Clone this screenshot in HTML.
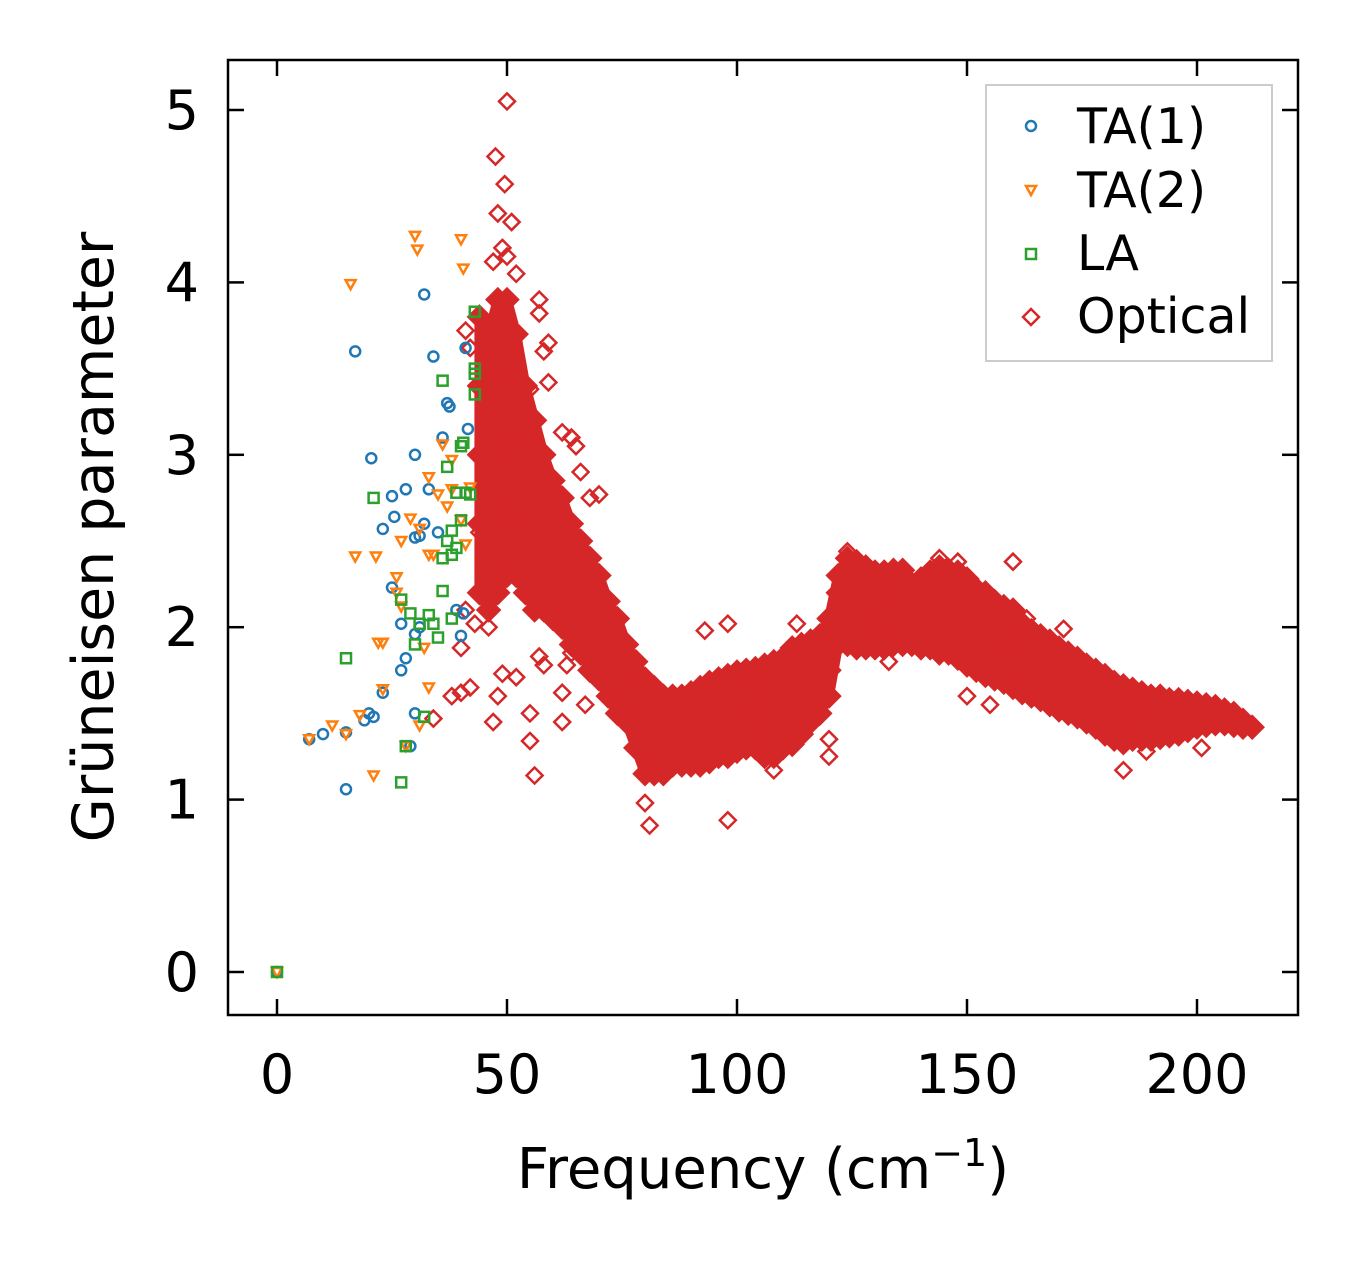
<!DOCTYPE html>
<html><head><meta charset="utf-8"><style>
html,body{margin:0;padding:0;background:#fff}
svg{display:block;font-family:"DejaVu Sans","Liberation Sans",sans-serif}
</style></head><body>
<svg id="chart" width="1357" height="1264" viewBox="0 0 1357 1264" xmlns="http://www.w3.org/2000/svg">
<rect x="0" y="0" width="1357" height="1264" fill="#fff"/>
<g id="marks"></g>
<rect x="228" y="60" width="1070" height="955" fill="none" stroke="#000" stroke-width="2.5"/>
<g id="axes"></g>
<text x="763" y="1188" font-size="56" text-anchor="middle">Frequency (cm<tspan dy="-22" font-size="38">−1</tspan><tspan dy="22">)</tspan></text>
<text transform="translate(113,537) rotate(-90)" font-size="57" text-anchor="middle">Grüneisen parameter</text>
<g>
<rect x="986" y="85" width="286" height="276" fill="#fff" stroke="#ccc" stroke-width="2"/>
<circle cx="1031" cy="126" r="5" fill="none" stroke="#1f77b4" stroke-width="2.5"/>
<text x="1077" y="143" font-size="49">TA(1)</text>
<path d="M1026,186 L1036,186 L1031,195 Z" fill="none" stroke="#ff7f0e" stroke-width="2.5"/>
<text x="1077" y="207" font-size="49">TA(2)</text>
<rect x="1026" y="249" width="10" height="10" fill="none" stroke="#2ca02c" stroke-width="2.5"/>
<text x="1077" y="270" font-size="49">LA</text>
<path d="M1031,309 L1039,317 L1031,325 L1023,317 Z" fill="none" stroke="#d62728" stroke-width="2.5"/>
<text x="1077" y="333" font-size="49">Optical</text>
</g>
</svg>
<script>
const xTicks=[0,50,100,150,200];
const yTicks=[0,1,2,3,4,5];
const ta1X=[0,7,10,15,15,17,19,20,21,20.5,23,23,25,25,25.5,27,27,28,28,29,30,30,30,30,31,31,32,32,33,34,35,36,37,37.5,39,40,41,41.5,40.5];
const ta1Y=[0,1.35,1.38,1.39,1.06,3.6,1.46,1.5,1.48,2.98,2.57,1.62,2.76,2.23,2.64,1.75,2.02,1.82,2.8,1.31,3.0,2.52,1.96,1.5,2.53,2.0,2.6,3.93,2.8,3.57,2.55,3.1,3.3,3.28,2.1,1.95,3.62,3.15,2.08];
const ta2X=[0,7,12,15,16,17,18,21,21.5,22,23,23,26,26,27,27,28,29,30,30.5,31,31,32,33,33,33,34,35,36,37,38,38,40,40,40.5,41,42];
const ta2Y=[0,1.35,1.43,1.38,3.99,2.41,1.49,1.14,2.41,1.91,1.91,1.64,2.29,2.2,2.12,2.5,1.31,2.63,4.27,4.19,2.57,1.43,1.88,1.65,2.87,2.42,2.42,2.77,3.06,2.7,2.8,2.97,2.62,4.25,4.08,2.48,2.81];
const laX=[0,15,21,27,27,28,29,30,31,32,33,34,35,36,36,36,37,37,38,38,38,39,39,40,40,40.5,41,42,43,43,43,43];
const laY=[0,1.82,2.75,1.1,2.16,1.31,2.08,1.9,2.02,1.48,2.07,2.02,1.94,2.21,2.4,3.43,2.93,2.5,2.42,2.56,2.05,2.46,2.78,2.62,3.05,3.07,2.78,2.77,3.47,3.5,3.35,3.83];
const bandX=[44,46,48,50,52,54,56,58,60,62,64,66,68,70,72,74,76,78,80,82,84,86,88,90,92,94,96,98,100,102,104,106,108,110,112,114,116,118,120,122,124,126,128,130,132,134,136,138,140,142,144,146,148,150,152,154,156,158,160,162,164,166,168,170,172,174,176,178,180,182,184,186,188,190,192,194,196,198,200,202,204,206,208,210,212];
const bandY=[[2.2,2.6,3.0,3.4,3.8],[2.1,2.5,2.9,3.3,3.7],[2.2,2.6,3.0,3.4,3.9],[2.3,2.7,3.1,3.5,3.9],[2.3,2.65,3.0,3.35,3.7],[2.2,2.5,2.8,3.1,3.4],[2.1,2.4,2.65,2.9,3.2],[2.1,2.35,2.55,2.75,3.0],[2.05,2.25,2.45,2.65,2.85],[2.0,2.2,2.4,2.55,2.75],[1.9,2.1,2.3,2.45,2.6],[1.85,2.0,2.15,2.3,2.5],[1.75,1.9,2.05,2.2,2.4],[1.7,1.85,1.95,2.1,2.3],[1.6,1.75,1.85,2.0,2.15],[1.5,1.65,1.75,1.9,2.05],[1.45,1.55,1.65,1.8,1.9],[1.3,1.45,1.55,1.65,1.8],[1.15,1.3,1.45,1.55,1.7],[1.15,1.3,1.4,1.5,1.65],[1.15,1.3,1.4,1.5,1.6],[1.2,1.3,1.4,1.5,1.6],[1.2,1.3,1.4,1.5,1.6],[1.2,1.32,1.42,1.52,1.62],[1.2,1.32,1.42,1.52,1.65],[1.22,1.35,1.45,1.55,1.68],[1.25,1.37,1.47,1.57,1.7],[1.25,1.38,1.5,1.6,1.72],[1.28,1.4,1.5,1.62,1.74],[1.3,1.42,1.52,1.63,1.75],[1.3,1.42,1.52,1.63,1.76],[1.25,1.4,1.52,1.64,1.78],[1.25,1.4,1.53,1.65,1.8],[1.3,1.42,1.55,1.68,1.82],[1.32,1.45,1.58,1.72,1.88],[1.38,1.5,1.62,1.75,1.9],[1.45,1.55,1.67,1.78,1.92],[1.5,1.6,1.7,1.82,1.95],[1.6,1.75,1.85,1.95,2.05],[1.9,2.0,2.1,2.2,2.3],[1.9,2.02,2.14,2.26,2.4],[1.88,2.0,2.12,2.25,2.38],[1.88,2.0,2.1,2.22,2.35],[1.88,1.98,2.08,2.2,2.32],[1.88,1.98,2.08,2.2,2.32],[1.9,2.0,2.1,2.2,2.33],[1.9,2.0,2.1,2.2,2.33],[1.9,1.98,2.06,2.15,2.25],[1.88,1.98,2.06,2.16,2.28],[1.88,1.98,2.08,2.2,2.32],[1.85,1.96,2.08,2.2,2.35],[1.85,1.95,2.05,2.18,2.33],[1.82,1.94,2.04,2.16,2.32],[1.78,1.9,2.0,2.12,2.28],[1.75,1.87,1.97,2.08,2.22],[1.72,1.84,1.95,2.05,2.2],[1.7,1.82,1.92,2.02,2.15],[1.68,1.8,1.9,2.0,2.12],[1.65,1.77,1.87,1.97,2.1],[1.62,1.73,1.83,1.92,2.02],[1.6,1.7,1.8,1.88,1.98],[1.58,1.68,1.77,1.85,1.95],[1.55,1.65,1.74,1.82,1.92],[1.52,1.62,1.7,1.78,1.88],[1.5,1.6,1.68,1.76,1.85],[1.48,1.57,1.65,1.73,1.82],[1.45,1.54,1.62,1.7,1.78],[1.42,1.51,1.59,1.67,1.75],[1.38,1.48,1.56,1.64,1.72],[1.35,1.45,1.53,1.6,1.68],[1.33,1.43,1.51,1.58,1.66],[1.35,1.43,1.5,1.57,1.64],[1.35,1.42,1.49,1.55,1.62],[1.35,1.42,1.48,1.54,1.6],[1.36,1.42,1.48,1.54,1.6],[1.37,1.43,1.48,1.53,1.58],[1.38,1.44,1.48,1.53,1.58],[1.4,1.45,1.49,1.53,1.57],[1.42,1.46,1.5,1.53,1.56],[1.43,1.46,1.49,1.52,1.55],[1.44,1.47,1.49,1.51,1.54],[1.44,1.46,1.48,1.5,1.52],[1.43,1.45,1.47,1.49,1.5],[1.42,1.44,1.46],[1.42]];
const optX=[50,47.5,49.5,48,51,49,50,47,52,41,42,57,57,59,58,59,55,62,64,65,66,68,70,47,48,49,52,55,55,56,57,58,62,62,63,40,42,38,34,40,41,43,81,98,80,93,98,120,120,124,133,144,148,155,160,163,171,184,189,201,150,113,104,108,67,64,46,45,44];
const optY=[5.05,4.73,4.57,4.4,4.35,4.2,4.15,4.12,4.05,3.72,3.62,3.9,3.82,3.65,3.6,3.42,3.38,3.13,3.1,3.05,2.9,2.75,2.77,1.45,1.6,1.73,1.71,1.5,1.34,1.14,1.83,1.78,1.45,1.62,1.78,1.62,1.65,1.6,1.47,1.88,2.1,2.02,0.85,0.88,0.98,1.98,2.02,1.25,1.35,2.44,1.8,2.4,2.38,1.55,2.38,2.05,1.99,1.17,1.28,1.3,1.6,2.02,1.77,1.17,1.55,1.85,2.0,2.3,2.55];

const NS='http://www.w3.org/2000/svg';
const sx=v=>277+v*4.6;
const sy=v=>972-v*172.4;
const marks=document.getElementById('marks');
const axes=document.getElementById('axes');
function mk(tag,attrs,parent){const e=document.createElementNS(NS,tag);for(const k in attrs)e.setAttribute(k,attrs[k]);parent.appendChild(e);return e;}
function diamond(x,y,filled){
  const X=sx(x),Y=sy(y);
  const h=filled?11:8;
  return mk('path',{d:`M${X},${Y-h} L${X+h},${Y} L${X},${Y+h} L${X-h},${Y} Z`,fill:filled?'#d62728':'none',stroke:'#d62728','stroke-width':2.5},marks);
}
const upperPts=[],lowerPts=[];
bandX.forEach((x,i)=>{const ys=bandY[i];upperPts.push(sx(x)+','+sy(Math.max(...ys)));lowerPts.unshift(sx(x)+','+sy(Math.min(...ys)));});
const band=mk('polygon',{points:upperPts.concat(lowerPts).join(' '),fill:'#d62728',stroke:'#d62728','stroke-width':10,'stroke-linejoin':'round'},marks);


bandX.forEach((x,i)=>{bandY[i].forEach(y=>{
  const e=diamond(x,y,true);
  
  
});});
optX.forEach((x,i)=>{
  const e=diamond(x,optY[i],false);
  
  
});
ta1X.forEach((x,i)=>{
  const e=mk('circle',{cx:sx(x),cy:sy(ta1Y[i]),r:5,fill:'none',stroke:'#1f77b4','stroke-width':2.5},marks);
  
  
});
ta2X.forEach((x,i)=>{
  const X=sx(x),Y=sy(ta2Y[i]);
  const e=mk('path',{d:`M${X-5},${Y-4} L${X+5},${Y-4} L${X},${Y+5} Z`,fill:'none',stroke:'#ff7f0e','stroke-width':2.5},marks);
  
  
});
laX.forEach((x,i)=>{
  const X=sx(x),Y=sy(laY[i]);
  const e=mk('rect',{x:X-5,y:Y-5,width:10,height:10,fill:'none',stroke:'#2ca02c','stroke-width':2.5},marks);
  
  
});
xTicks.forEach(t=>{
  const X=sx(t);
  const a=mk('line',{x1:X,y1:1015,x2:X,y2:999,stroke:'#000','stroke-width':2.5},axes);
  
  
  const b=mk('line',{x1:X,y1:60,x2:X,y2:76,stroke:'#000','stroke-width':2.5},axes);
  
  
  const l=mk('text',{x:X,y:1093,'font-size':54,'text-anchor':'middle'},axes);
  l.textContent=t;
  
  
});
yTicks.forEach(t=>{
  const Y=sy(t);
  const a=mk('line',{x1:228,y1:Y,x2:244,y2:Y,stroke:'#000','stroke-width':2.5},axes);
  
  
  const b=mk('line',{x1:1298,y1:Y,x2:1282,y2:Y,stroke:'#000','stroke-width':2.5},axes);
  
  
  const l=mk('text',{x:199,y:Y+19,'font-size':54,'text-anchor':'end'},axes);
  l.textContent=t;
  
  
});
</script>
</body></html>
